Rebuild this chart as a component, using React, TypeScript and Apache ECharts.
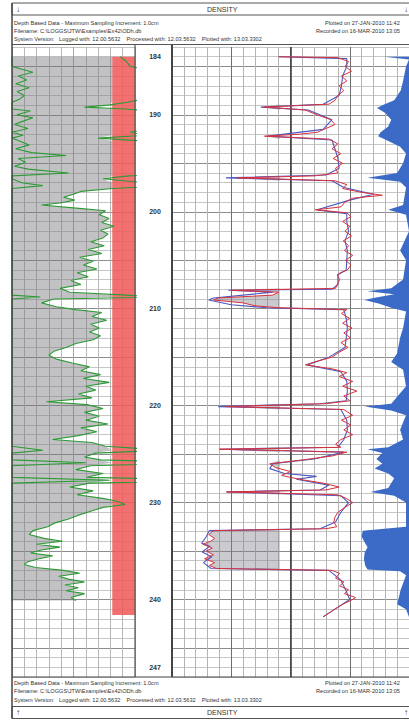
import React, { useEffect, useRef } from "react";
import * as echarts from "echarts";

// ---------- depth scale ----------
const DEPTH_MIN = 183;
const DEPTH_MAX = 248;
const DEPTH_LABELS = [184, 190, 200, 210, 220, 230, 240, 247];

// ---------- left track (gamma-ray style, track units 0..10, >10 wraps) ----------
const GR_CURVE: [number, number][] = [
  [184.0, 8.8], [184.5, 9.3], [185.0, 9.6], [185.3, 10.8], [185.6, 11.7], [186.0, 10.5],
  [186.4, 11.2], [186.8, 10.3], [187.2, 11.4], [187.6, 10.4], [188.0, 11.0], [188.4, 10.6],
  [188.7, 9.4], [189.0, 7.8], [189.2, 5.9], [189.4, 9.2], [189.6, 11.5], [190.0, 10.4],
  [190.3, 11.7], [190.7, 10.8], [191.0, 10.2], [191.4, 11.3], [191.8, 9.6], [192.1, 10.9],
  [192.4, 7.0], [192.7, 10.6], [193.1, 11.4], [193.5, 10.3], [193.9, 11.6], [194.2, 14.4],
  [194.5, 10.5], [194.9, 11.1], [195.3, 10.2], [195.6, 11.3], [196.0, 14.6], [196.3, 9.5],
  [196.6, 7.4], [197.0, 10.8], [197.3, 12.5], [197.6, 8.2], [197.9, 5.6], [198.2, 5.0],
  [198.5, 4.2], [198.8, 5.1], [199.1, 3.9], [199.3, 2.4], [199.6, 5.0], [199.9, 7.6],
  [200.3, 7.1], [200.7, 7.9], [201.1, 7.3], [201.5, 8.3], [201.9, 7.2], [202.3, 7.8],
  [202.7, 7.4], [203.1, 6.4], [203.5, 7.5], [203.9, 6.2], [204.3, 7.3], [204.7, 5.5],
  [205.1, 6.6], [205.5, 5.8], [205.9, 6.9], [206.3, 5.3], [206.7, 6.2], [207.1, 4.8],
  [207.5, 5.6], [207.9, 3.9], [208.3, 4.7], [208.6, 9.3], [208.8, 12.3], [209.0, 3.4],
  [209.4, 2.4], [209.8, 3.6], [210.1, 5.2], [210.4, 7.3], [210.8, 6.5], [211.2, 7.7],
  [211.6, 6.4], [212.0, 7.1], [212.4, 6.3], [212.8, 7.2], [213.2, 6.6], [213.6, 5.2],
  [214.0, 4.4], [214.4, 3.4], [214.8, 3.0], [215.2, 3.6], [215.6, 4.9], [216.0, 6.3],
  [216.4, 5.6], [216.8, 7.2], [217.2, 5.8], [217.6, 7.9], [218.0, 6.0], [218.4, 6.8],
  [218.8, 5.4], [219.2, 6.5], [219.6, 2.8], [219.9, 6.1], [220.3, 7.4], [220.7, 5.9],
  [221.1, 7.1], [221.5, 6.0], [221.9, 7.8], [222.3, 5.6], [222.7, 6.9], [223.1, 5.4],
  [223.5, 3.3], [223.8, 6.5], [224.2, 7.6], [224.6, 12.5], [224.9, 6.8], [225.3, 5.9],
  [225.6, 7.2], [225.9, 16.0], [226.2, 6.4], [226.6, 5.2], [227.0, 7.4], [227.4, 6.1],
  [227.7, 17.9], [228.0, 6.3], [228.4, 4.7], [228.8, 6.6], [229.2, 5.3], [229.6, 7.5],
  [229.9, 8.6], [230.2, 9.2], [230.5, 7.4], [230.9, 6.4], [231.3, 5.4], [231.7, 4.6],
  [232.1, 3.5], [232.5, 2.9], [232.9, 1.7], [233.3, 1.4], [233.7, 2.6], [234.0, 4.1],
  [234.3, 2.0], [234.6, 3.9], [234.9, 2.4], [235.2, 1.5], [235.5, 3.3], [235.8, 2.2],
  [236.1, 1.3], [236.4, 1.0], [236.7, 1.9], [237.0, 4.2], [237.3, 5.5], [237.6, 3.8],
  [237.9, 4.6], [238.2, 5.9], [238.5, 4.3], [238.8, 5.4], [239.1, 4.4], [239.4, 5.9],
  [239.8, 4.8], [240.1, 5.2],
];
const GR_TRACK_MAX = 10;
const GR_SHADE_LIMIT = 8.15;
const RED_BAND_LEFT = 8.15;
const RED_BAND_DEPTHS = [184.0, 241.6];

// ---------- right track (track units 0..40) ----------
const DENSITY_CURVE: [number, number][] = [
  [184.0, 18.0], [184.1, 28.0], [184.5, 29.8], [185.0, 29.2], [185.5, 30.3], [186.0, 28.6],
  [186.5, 29.5], [187.0, 28.2], [187.5, 29.0], [188.0, 28.0], [188.5, 27.5], [188.9, 26.5],
  [189.2, 15.5], [189.5, 22.5], [190.0, 24.5], [190.5, 26.8], [191.0, 27.5], [191.4, 26.0],
  [191.8, 24.5], [192.0, 21.5], [192.2, 15.6], [192.5, 26.5], [193.0, 28.0], [193.5, 27.0],
  [194.0, 28.5], [194.5, 27.2], [195.0, 28.8], [195.5, 27.6], [196.0, 28.0], [196.3, 24.0],
  [196.5, 11.0], [196.8, 27.5], [197.2, 29.5], [197.6, 28.8], [198.0, 32.0], [198.3, 35.5],
  [198.6, 30.5], [199.0, 29.2], [199.5, 28.5], [199.8, 24.2], [200.1, 29.5], [200.5, 30.2],
  [201.0, 28.8], [201.5, 30.0], [202.0, 29.2], [202.5, 30.3], [203.0, 28.9], [203.5, 29.8],
  [204.0, 29.1], [204.5, 30.5], [205.0, 29.3], [205.5, 30.2], [206.0, 29.6], [206.3, 28.4],
  [206.5, 27.9], [207.0, 28.3], [207.5, 27.9], [207.9, 27.6], [208.1, 10.0], [208.3, 18.0],
  [208.6, 17.0], [208.9, 7.8], [209.1, 7.0], [209.4, 12.0], [209.7, 14.0], [209.9, 18.0],
  [210.1, 29.5], [210.5, 28.6], [211.0, 30.0], [211.5, 28.8], [212.0, 30.4], [212.5, 29.0],
  [213.0, 30.1], [213.5, 28.5], [214.0, 29.7], [214.5, 28.2], [215.0, 27.0], [215.5, 24.0],
  [215.8, 22.5], [216.2, 27.0], [216.6, 29.5], [217.0, 28.2], [217.5, 30.5], [218.0, 28.8],
  [218.5, 31.2], [219.0, 29.0], [219.5, 30.0], [219.8, 26.0], [220.1, 9.0], [220.4, 29.0],
  [221.0, 30.5], [221.5, 28.6], [222.0, 30.2], [222.5, 29.0], [223.0, 30.5], [223.5, 28.5],
  [224.0, 27.6], [224.3, 28.5], [224.5, 8.0], [224.8, 29.5], [225.2, 27.0], [225.6, 22.0],
  [226.0, 16.5], [226.4, 17.5], [226.8, 20.0], [227.2, 18.5], [227.6, 21.5], [228.0, 25.5],
  [228.4, 28.2], [228.7, 26.0], [228.9, 9.2], [229.2, 28.0], [229.6, 29.5], [230.0, 30.5],
  [230.5, 29.2], [231.0, 28.0], [231.5, 27.5], [232.0, 27.3], [232.5, 27.8], [232.7, 26.0],
  [232.9, 7.0], [233.3, 6.2], [233.7, 7.2], [234.0, 6.5], [234.3, 5.2], [234.7, 6.8],
  [235.0, 5.8], [235.4, 7.0], [235.8, 5.5], [236.2, 7.2], [236.5, 6.3], [236.8, 7.5],
  [237.0, 27.0], [237.3, 28.3], [237.8, 27.6], [238.2, 29.0], [238.6, 28.3], [239.0, 29.8],
  [239.4, 29.1], [239.8, 31.0], [240.1, 30.2], [240.5, 28.8], [241.0, 27.5], [241.4, 26.5],
  [241.8, 25.5],
];
const NEUTRON_CURVE: [number, number][] = [
  [184.0, 18.0], [184.2, 29.5], [185.0, 29.5], [186.0, 28.8], [187.0, 28.6], [188.0, 28.2],
  [188.9, 25.5], [189.2, 15.0], [189.5, 23.0], [190.5, 27.0], [191.5, 25.5], [192.2, 16.2],
  [192.6, 27.0], [193.5, 27.5], [194.5, 28.0], [195.5, 28.2], [196.2, 26.0], [196.5, 9.1],
  [196.8, 27.0], [197.5, 29.0], [198.2, 34.0], [198.8, 30.0], [199.8, 24.5], [200.2, 29.5],
  [201.0, 29.5], [202.0, 29.8], [203.0, 29.2], [204.0, 29.6], [205.0, 29.5], [206.0, 29.4],
  [206.5, 28.0], [207.5, 28.0], [208.0, 27.0], [208.1, 9.5], [208.3, 17.0], [208.9, 7.0],
  [209.1, 6.2], [209.6, 10.0], [209.9, 16.0], [210.1, 29.0], [211.0, 29.4], [212.0, 29.6],
  [213.0, 29.4], [214.0, 29.2], [215.0, 26.5], [215.8, 22.8], [216.5, 28.5], [217.5, 29.5],
  [218.5, 29.6], [219.5, 29.4], [219.8, 25.0], [220.1, 7.8], [220.4, 28.5], [221.5, 29.5],
  [222.5, 29.6], [223.5, 29.0], [224.3, 28.0], [224.5, 8.1], [224.8, 29.0], [225.5, 24.0],
  [226.0, 17.0], [226.5, 16.5], [227.0, 19.0], [227.3, 24.4], [227.6, 21.0], [228.2, 26.5],
  [228.7, 25.0], [228.9, 9.2], [229.3, 28.5], [230.0, 29.8], [231.0, 28.5], [232.0, 27.6],
  [232.7, 25.0], [232.9, 6.3], [233.5, 5.8], [234.2, 5.0], [234.5, 6.4], [235.1, 5.1],
  [235.6, 6.7], [236.2, 5.3], [236.8, 6.6], [237.0, 26.5], [238.0, 28.5], [239.0, 29.3],
  [240.0, 30.0], [241.0, 27.5], [241.8, 25.5],
];
const PEF_CURVE: [number, number][] = [
  [184.0, 35.8], [184.3, 40.0], [185.0, 39.5], [186.5, 39.0], [187.5, 38.6], [188.5, 37.5],
  [189.0, 35.5], [189.3, 34.6], [189.8, 36.0], [190.5, 37.0], [191.2, 36.5], [191.8, 35.2],
  [192.2, 34.8], [192.7, 36.5], [193.3, 38.5], [194.0, 39.5], [195.0, 39.0], [196.0, 38.0],
  [196.5, 33.0], [196.9, 38.5], [197.5, 39.5], [199.3, 39.0], [199.8, 36.5], [200.3, 39.5],
  [202.0, 40.0], [204.0, 38.5], [205.0, 39.5], [207.0, 39.0], [207.9, 37.0], [208.2, 33.0],
  [208.5, 37.5], [208.9, 34.0], [209.1, 32.5], [209.5, 35.0], [209.9, 37.0], [210.3, 39.5],
  [212.0, 39.0], [213.0, 38.5], [214.6, 38.0], [215.5, 37.0], [216.3, 39.0], [218.0, 39.5],
  [219.8, 37.0], [220.1, 32.5], [220.5, 37.0], [221.0, 39.5], [222.5, 38.5], [223.5, 39.0],
  [224.3, 36.5], [224.5, 33.0], [224.9, 35.5], [225.5, 34.5], [226.0, 35.5], [226.5, 34.2],
  [227.0, 36.5], [227.5, 37.5], [228.5, 36.5], [228.9, 33.5], [229.3, 37.5], [230.0, 39.5],
  [232.5, 39.5], [232.9, 32.2], [233.5, 32.0], [234.2, 32.6], [234.6, 33.0], [235.2, 32.5],
  [235.8, 32.4], [236.5, 32.6], [236.9, 33.0], [237.1, 38.5], [237.5, 39.5], [239.0, 38.6],
  [240.5, 38.0], [241.0, 39.5], [241.8, 40.0],
];
const RIGHT_TRACK_MAX = 40;
const DENSITY_SHADE_CUTOFF = 18.2;

// ---------- header / footer text ----------
const TITLE = "DENSITY";
const HEADER_LEFT = [
  "Depth Based Data - Maximum Sampling Increment: 1.0cm",
  "Filename: C:\\LOGGS\\JTW\\Examples\\Ex42\\ODh.db",
  "System Version:   Logged with: 12.00.5632    Processed with: 12.03.5632    Plotted with: 13.03.3302",
];
const HEADER_RIGHT = ["Plotted on 27-JAN-2010 11:42", "Recorded on 16-MAR-2010 13:05"];

const FONT = "Liberation Sans, Arial, sans-serif";

function polygonItem(points: number[][], fill: string) {
  return (_p: any, api: any) => ({
    type: "polygon",
    shape: { points: points.map((pt) => api.coord(pt)) },
    style: { fill, stroke: "none" },
  });
}

export default function App() {
  const ref = useRef<HTMLDivElement>(null);
  useEffect(() => {
    if (!ref.current) return;
    const chart = echarts.init(ref.current, undefined, { renderer: "svg" });

    const top = 47;
    const height = 630;
    const bottom = top + height;

    const grShade = [
      [0, GR_CURVE[0][0]],
      ...GR_CURVE.map(([d, v]) => [Math.min(v, GR_SHADE_LIMIT), d]),
      [0, GR_CURVE[GR_CURVE.length - 1][0]],
    ];
    const denShade = [
      [DENSITY_SHADE_CUTOFF, DENSITY_CURVE[0][0]],
      ...DENSITY_CURVE.map(([d, v]) => [Math.min(v, DENSITY_SHADE_CUTOFF), d]),
      [DENSITY_SHADE_CUTOFF, DENSITY_CURVE[DENSITY_CURVE.length - 1][0]],
    ];
    const pefShade = [
      [RIGHT_TRACK_MAX, PEF_CURVE[0][0]],
      ...PEF_CURVE.map(([d, v]) => [v, d]),
      [RIGHT_TRACK_MAX, PEF_CURVE[PEF_CURVE.length - 1][0]],
    ];

    const hMinor = "#c6c6c6";
    const hMajor = "#8c8c8c";
    const depthSplitColors = [hMinor, hMinor, hMajor, hMinor, hMinor];

    const textEl = (text: string, x: number, y: number, size = 6, align = "left", weight = "normal") => ({
      type: "text",
      x,
      y,
      z: 120,
      style: { text, fill: "#333", font: `${weight} ${size}px ${FONT}`, textAlign: align, textVerticalAlign: "middle", verticalAlign: "middle" },
    });
    const lineEl = (x1: number, y1: number, x2: number, y2: number, w = 1, c = "#444") => ({
      type: "line",
      z: 110,
      shape: { x1, y1, x2, y2 },
      style: { stroke: c, lineWidth: w },
    });

    const graphic: any[] = [
      // top title bar
      { type: "rect", z: 100, shape: { x: 12, y: 3, width: 420, height: 12 }, style: { fill: "#fff", stroke: "#555", lineWidth: 1 } },
      textEl(TITLE, 207, 9.5, 7),
      textEl("↓", 16, 9.5, 8, "left", "bold"),
      textEl("↓", 404, 9.5, 8, "left", "bold"),
      ...HEADER_LEFT.map((t, i) => textEl(t, 14, 22.5 + i * 8, 5.6)),
      textEl(HEADER_RIGHT[0], 325, 22.5, 5.6),
      textEl(HEADER_RIGHT[1], 316, 30.5, 5.6),
      lineEl(12, 44.5, 420, 44.5, 1, "#555"),
      // footer
      lineEl(12, bottom, 420, bottom, 1.2, "#444"),
      ...HEADER_LEFT.map((t, i) => textEl(t, 14, 683 + i * 8.3, 5.6)),
      textEl(HEADER_RIGHT[0], 325, 683, 5.6),
      textEl(HEADER_RIGHT[1], 316, 691.3, 5.6),
      { type: "rect", z: 100, shape: { x: 12, y: 706.5, width: 420, height: 12 }, style: { fill: "#fff", stroke: "#555", lineWidth: 1 } },
      textEl(TITLE, 207, 712.5, 7),
      textEl("↑", 16, 712.5, 8, "left", "bold"),
      textEl("↑", 404, 712.5, 8, "left", "bold"),
      // frame + track borders
      lineEl(12, 3, 12, 718.5, 1.5, "#444"),
      lineEl(135, 44.5, 135, bottom, 1.2, "#555"),
      lineEl(172, 44.5, 172, bottom, 2, "#444"),
    ];

    const option: any = {
      animation: false,
      backgroundColor: "#fff",
      graphic,
      grid: [
        { left: 12, top, width: 123, height },
        { left: 135, top, width: 37, height },
        { left: 172, top, width: 246, height },
      ],
      xAxis: [
        {
          gridIndex: 0, type: "value", min: 0, max: GR_TRACK_MAX, interval: 1,
          axisLine: { show: false }, axisTick: { show: false }, axisLabel: { show: false },
          splitLine: { show: true, lineStyle: { width: 1, color: ["#a6a6a6", "#b8b8b8", "#b8b8b8", "#b8b8b8", "#b8b8b8"] } },
        },
        { gridIndex: 1, type: "value", min: 0, max: 1, show: false },
        {
          gridIndex: 2, type: "value", min: 0, max: RIGHT_TRACK_MAX, interval: 2,
          axisLine: { show: false }, axisTick: { show: false }, axisLabel: { show: false },
          splitLine: {
            show: true,
            lineStyle: { width: 1, color: ["#555", "#b4b4b4", "#b4b4b4", "#b4b4b4", "#b4b4b4", "#6e6e6e", "#b4b4b4", "#b4b4b4", "#b4b4b4", "#b4b4b4"] },
          },
        },
      ],
      yAxis: [
        {
          gridIndex: 0, type: "value", min: DEPTH_MIN, max: DEPTH_MAX, interval: 1, inverse: true,
          axisLine: { show: false }, axisTick: { show: false }, axisLabel: { show: false },
          splitLine: { show: true, lineStyle: { width: 1, color: depthSplitColors } },
        },
        {
          gridIndex: 1, type: "value", min: DEPTH_MIN, max: DEPTH_MAX, interval: 1, inverse: true,
          axisLine: { show: false }, axisTick: { show: false }, splitLine: { show: false },
          axisLabel: {
            show: true, inside: true, margin: 20, align: "center",
            fontSize: 7, fontWeight: "bold", fontFamily: FONT, color: "#333",
            formatter: (v: number) => (DEPTH_LABELS.includes(Math.round(v)) && Math.abs(v - Math.round(v)) < 1e-6 ? String(Math.round(v)) : ""),
          },
        },
        {
          gridIndex: 2, type: "value", min: DEPTH_MIN, max: DEPTH_MAX, interval: 1, inverse: true,
          axisLine: { show: false }, axisTick: { show: false }, axisLabel: { show: false },
          splitLine: { show: true, lineStyle: { width: 1, color: depthSplitColors } },
        },
      ],
      series: [
        // left track: red band
        {
          type: "custom", xAxisIndex: 0, yAxisIndex: 0, clip: true, z: 1, silent: true,
          data: [[RED_BAND_LEFT, RED_BAND_DEPTHS[0]]],
          renderItem: (_p: any, api: any) => {
            const a = api.coord([RED_BAND_LEFT, RED_BAND_DEPTHS[0]]);
            const b = api.coord([GR_TRACK_MAX, RED_BAND_DEPTHS[1]]);
            return { type: "rect", shape: { x: a[0], y: a[1], width: b[0] - a[0], height: b[1] - a[1] }, style: { fill: "rgba(240,88,88,0.86)" } };
          },
        },
        // left track: grey shading
        {
          type: "custom", xAxisIndex: 0, yAxisIndex: 0, clip: true, z: 2, silent: true,
          data: [[0, GR_CURVE[0][0]]],
          renderItem: polygonItem(grShade, "rgba(120,120,124,0.45)"),
        },
        // green curve (main scale)
        {
          type: "line", xAxisIndex: 0, yAxisIndex: 0, clip: true, z: 5, symbol: "none", silent: true,
          data: GR_CURVE.map(([d, v]) => [v, d]),
          lineStyle: { color: "#2d9a36", width: 1.1 },
        },
        // green curve (wrapped backup scale)
        {
          type: "line", xAxisIndex: 0, yAxisIndex: 0, clip: true, z: 5, symbol: "none", silent: true,
          data: GR_CURVE.map(([d, v]) => [v > GR_TRACK_MAX ? v - GR_TRACK_MAX : 0, d]),
          lineStyle: { color: "#2d9a36", width: 1.1 },
        },
        // right track: density shading
        {
          type: "custom", xAxisIndex: 2, yAxisIndex: 2, clip: true, z: 2, silent: true,
          data: [[DENSITY_SHADE_CUTOFF, DENSITY_CURVE[0][0]]],
          renderItem: polygonItem(denShade, "rgba(130,130,140,0.42)"),
        },
        // right track: blue fill
        {
          type: "custom", xAxisIndex: 2, yAxisIndex: 2, clip: true, z: 3, silent: true,
          data: [[RIGHT_TRACK_MAX, PEF_CURVE[0][0]]],
          renderItem: polygonItem(pefShade, "#3b6bc6"),
        },
        // blue curve
        {
          type: "line", xAxisIndex: 2, yAxisIndex: 2, clip: true, z: 5, symbol: "none", silent: true,
          data: NEUTRON_CURVE.map(([d, v]) => [v, d]),
          lineStyle: { color: "#4c58c2", width: 1.1 },
        },
        // red curve
        {
          type: "line", xAxisIndex: 2, yAxisIndex: 2, clip: true, z: 6, symbol: "none", silent: true,
          data: DENSITY_CURVE.map(([d, v]) => [v, d]),
          lineStyle: { color: "#d8323c", width: 1 },
          markLine: {
            silent: true, symbol: "none", label: { show: false },
            lineStyle: { color: "#444", width: 1.6, type: "solid" },
            data: [{ xAxis: 20 }],
          },
        },
      ],
    };
    chart.setOption(option);
    return () => chart.dispose();
  }, []);

  return (
    <div
      ref={ref}
      style={{ position: "absolute", left: 0, top: 0, width: 409, height: 723, background: "#fff" }}
    />
  );
}
